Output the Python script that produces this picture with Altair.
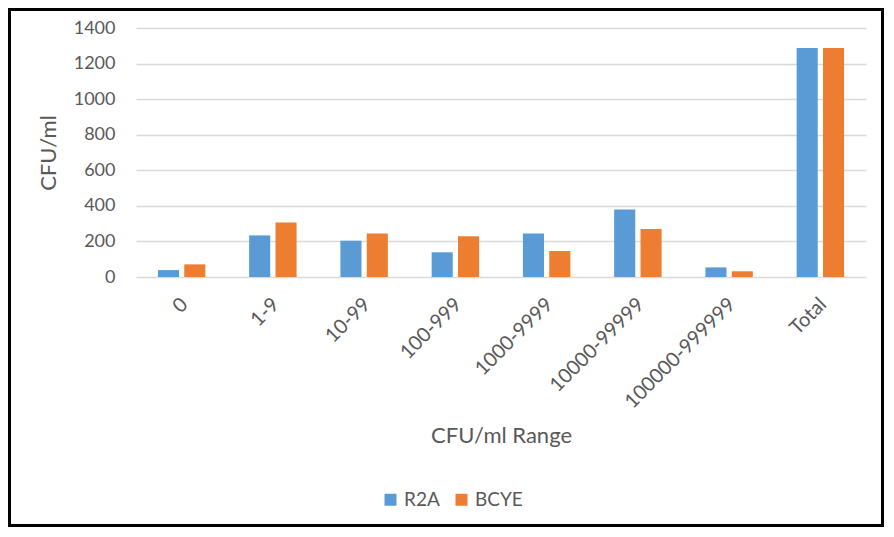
import altair as alt
import pandas as pd

categories = ["0", "1-9", "10-99", "100-999", "1000-9999", "10000-99999", "100000-999999", "Total"]
r2a = [39, 234, 204, 139, 245, 380, 54, 1288]
bcye = [71, 307, 245, 229, 146, 270, 32, 1288]
series = ["R2A", "BCYE"]
colors = ["#5B9BD5", "#ED7D31"]
y_ticks = [0, 200, 400, 600, 800, 1000, 1200, 1400]

rows = []
for c, a, b in zip(categories, r2a, bcye):
    rows.append({"range": c, "medium": "R2A", "value": a})
    rows.append({"range": c, "medium": "BCYE", "value": b})
df = pd.DataFrame(rows)

FONT = "Lato"
GRAY = "#595959"
W, H = 730, 249
PAD = {"left": 128, "top": 20, "right": 18, "bottom": 250}

bars = alt.Chart(df).mark_bar().encode(
    x=alt.X(
        "range:N",
        sort=categories,
        scale=alt.Scale(paddingInner=0.48, paddingOuter=0.24),
        axis=alt.Axis(
            title="CFU/ml Range",
            titleFont=FONT, titleFontSize=22, titleFontWeight="normal", titleColor=GRAY,
            titleX=W / 2, titleY=158, titleBaseline="middle", titleAlign="center",
            labelAngle=-45, labelAlign="right", labelBaseline="middle",
            labelFont=FONT, labelFontSize=20, labelColor=GRAY, labelPadding=24,
            labelOffset=3,
            domain=False, ticks=False,
        ),
    ),
    xOffset=alt.XOffset("medium:N", sort=series, scale=alt.Scale(paddingInner=0.2, paddingOuter=0)),
    y=alt.Y(
        "value:Q",
        scale=alt.Scale(domain=[0, 1400], nice=False),
        axis=alt.Axis(
            title="CFU/ml", values=y_ticks, format="d",
            titleFont=FONT, titleFontSize=22, titleFontWeight="normal", titleColor=GRAY,
            titleX=-88, titleY=H / 2, titleAngle=-90, titleBaseline="middle", titleAlign="center",
            labelFont=FONT, labelFontSize=18, labelColor=GRAY, labelPadding=21,
            domain=False, ticks=False,
            grid=True, gridColor="#D9D9D9", gridWidth=1.5,
        ),
    ),
    color=alt.Color(
        "medium:N",
        sort=series,
        scale=alt.Scale(domain=series, range=colors),
        legend=alt.Legend(
            title=None, orient="none", legendX=245, legendY=462, direction="horizontal",
            symbolType="square", symbolSize=144, symbolStrokeWidth=0,
            labelFont=FONT, labelFontSize=19, labelColor=GRAY,
            labelOffset=4, columnPadding=12,
        ),
    ),
)

frame = alt.Chart(alt.Data(values=[{"k": 1}])).mark_rect(
    fillOpacity=0, stroke="black", strokeWidth=3
).encode(
    x=alt.value(-PAD["left"] + 1.5),
    x2=alt.value(W + PAD["right"] - 1.5),
    y=alt.value(-PAD["top"] + 1.5),
    y2=alt.value(H + PAD["bottom"] - 1.5),
)

chart = alt.layer(bars, frame).properties(
    width=W, height=H,
    autosize=alt.AutoSizeParams(type="none"),
    padding=PAD,
    background="white",
).configure_view(stroke=None)

chart.save("out.html", embed_options={"renderer": "svg", "actions": False})
